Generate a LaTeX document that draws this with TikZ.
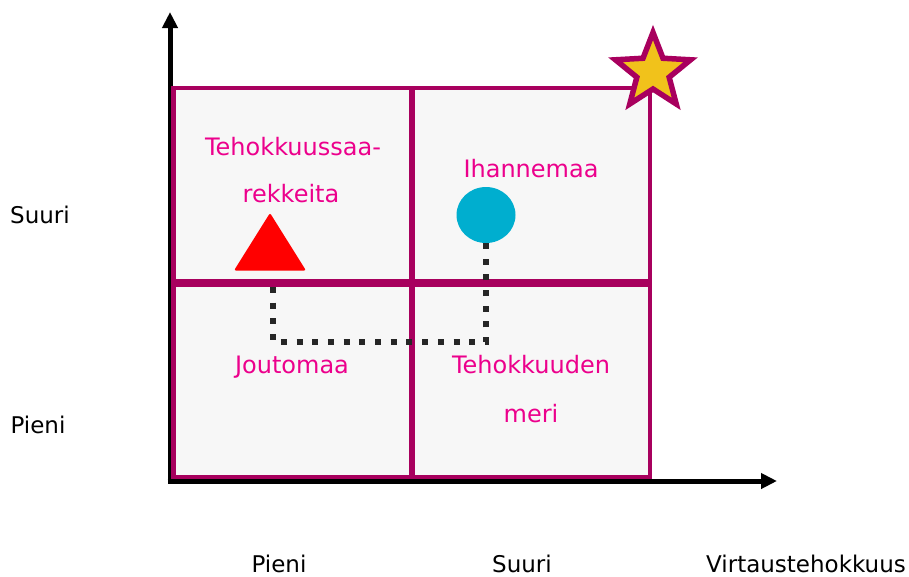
\documentclass[tikz,border=0pt]{standalone}
\usepackage{fontspec}
\setmainfont{DejaVu Sans}
\usetikzlibrary{arrows.meta,shapes.geometric}
\definecolor{gridmag}{RGB}{168,0,94}
\definecolor{labmag}{RGB}{236,0,140}
\definecolor{cellgray}{RGB}{247,247,247}
\definecolor{staryel}{RGB}{241,194,27}
\definecolor{dotgray}{RGB}{38,38,38}
\definecolor{circblue}{RGB}{0,174,207}
\tikzset{
  cell/.style={draw=gridmag, line width=4.5pt, fill=cellgray, inner sep=0pt, outer sep=0pt},
  axisline/.style={line width=5pt, black, -{Triangle[length=16pt,width=15pt]}},
  maglabel/.style={text=labmag, font=\fontsize{24}{28}\selectfont, anchor=base, inner sep=0pt},
  blacklabel/.style={text=black, font=\fontsize{23}{28}\selectfont, anchor=base, inner sep=0pt},
  dotline/.style={dotgray, line width=6pt, dash pattern=on 6pt off 9.7pt},
  starshape/.style={draw=gridmag, line width=5.5pt, line join=miter, fill=staryel},
}
\begin{document}
\begin{tikzpicture}[x=1pt,y=-1pt]
\useasboundingbox (0,0) rectangle (909,576);
% axes
\coordinate (origin) at (170,483.5);
\coordinate (ytip) at (170,12);
\coordinate (xorigin) at (167.5,481);
\coordinate (xtip) at (777,481);
\draw[axisline] (origin) -- (ytip);
\draw[axisline] (xorigin) -- (xtip);
% cells (top row spans 88..281, bottom row 285..477)
\node[cell, minimum width=237.5pt, minimum height=193pt] (c11) at (292.25,184.5) {};
\node[cell, minimum width=237.5pt, minimum height=193pt] (c12) at (531.25,184.5) {};
\node[cell, minimum width=237.5pt, minimum height=192pt] (c21) at (292.25,381) {};
\node[cell, minimum width=237.5pt, minimum height=192pt] (c22) at (531.25,381) {};
% star
\coordinate (star) at (653,72);
\begin{scope}[shift={(star)}]
\draw[starshape] (270:39.5) -- (306:17) -- (342:39.5) -- (18:17) -- (54:39.5)
  -- (90:17) -- (126:39.5) -- (162:17) -- (198:39.5) -- (234:17) -- cycle;
\end{scope}
% triangle
\coordinate (tri) at (273,270.5);
\fill[red, rounded corners=2pt] (270,213) -- (306,270.5) -- (234,270.5) -- cycle;
% circle
\node[ellipse, minimum width=59pt, minimum height=56pt, inner sep=0pt, fill=circblue] (circ) at (486,215) {};
% dotted connector
\coordinate (dstart) at (273,287);
\coordinate (dturn) at (273,342);
\draw[dotline] (dstart) -- (dturn) -| (circ.south);
% labels
\node[maglabel] (l1a) at (293,155) {Tehokkuussaa-};
\node[maglabel] (l1b) at (291,202) {rekkeita};
\node[maglabel] (l2) at (531,177) {Ihannemaa};
\node[maglabel] (l3) at (292,373) {Joutomaa};
\node[maglabel] (l4a) at (531,373) {Tehokkuuden};
\node[maglabel] (l4b) at (531,422) {meri};
\node[blacklabel] (ys) at (40,223) {Suuri};
\node[blacklabel] (yp) at (38,433) {Pieni};
\node[blacklabel] (xp) at (279,572) {Pieni};
\node[blacklabel] (xs) at (522,572) {Suuri};
\node[blacklabel] (xt) at (806,572) {Virtaustehokkuus};
\end{tikzpicture}
\end{document}
